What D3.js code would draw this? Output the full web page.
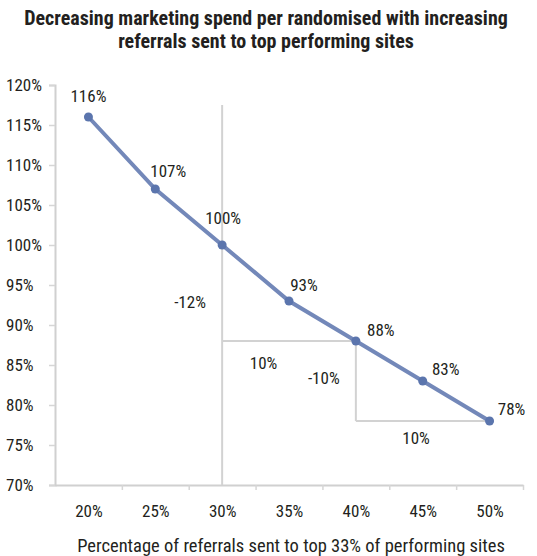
<!DOCTYPE html>
<html>
<head>
<meta charset="utf-8">
<script src="https://cdn.jsdelivr.net/npm/d3@7"></script>
<style>
  body { margin: 0; background: #fff; }
  svg text { font-family: "Liberation Sans Narrow", "Roboto Condensed", "Liberation Sans", sans-serif; fill: #231f20; }
  .title { font-weight: bold; font-size: 20px; }
</style>
</head>
<body>
<div id="svg-container"></div>
<script>
// data
const categories = [20, 25, 30, 35, 40, 45, 50]; // % referrals sent to top sites
const spend = [116, 107, 100, 93, 88, 83, 78]; // marketing spend per randomised (%)
const yTicks = [70, 75, 80, 85, 90, 95, 100, 105, 110, 115, 120];

const width = 537;
const height = 556;
const margin = { top: 85, right: 14, bottom: 71, left: 55 };
const fs = "17px";

const svg = d3.select("#svg-container").append("svg")
  .attr("width", width).attr("height", height);

// scale
const xScale = d3.scaleLinear().domain([17.5, 52.5]).range([margin.left, width - margin.right]);
const yScale = d3.scaleLinear().domain([70, 120]).range([height - margin.bottom, margin.top]);

// title
svg.append("text").attr("class", "title").attr("x", 266).attr("y", 25)
  .attr("text-anchor", "middle").text("Decreasing marketing spend per randomised with increasing");
svg.append("text").attr("class", "title").attr("x", 266).attr("y", 48)
  .attr("text-anchor", "middle").text("referrals sent to top performing sites");

// y axis
const yAxis = svg.append("g")
  .attr("transform", `translate(${margin.left},0)`)
  .call(d3.axisLeft(yScale).tickValues(yTicks).tickSize(6).tickFormat((d) => d + "%"));
yAxis.select(".domain").attr("stroke", "#d0d0d0").attr("stroke-width", 2);
yAxis.selectAll(".tick line").attr("stroke", "#d6d6d6").attr("stroke-width", 1.5);
yAxis.selectAll(".tick text")
  .attr("text-anchor", "start").attr("x", -margin.left + 6)
  .style("font-size", fs);

// x axis: labels at category centres, tick marks between categories
const xAxis = svg.append("g")
  .attr("transform", `translate(0,${height - margin.bottom})`)
  .call(d3.axisBottom(xScale).tickValues(categories).tickSize(0).tickPadding(20).tickFormat((d) => d + "%"));
xAxis.select(".domain").attr("stroke", "#d0d0d0").attr("stroke-width", 2);
xAxis.selectAll(".tick text").style("font-size", fs);

svg.append("g")
  .attr("transform", `translate(0,${height - margin.bottom})`)
  .call(d3.axisBottom(xScale).tickValues(categories.map((d) => d + 2.5)).tickSize(5).tickFormat(""))
  .call((g) => g.select(".domain").remove())
  .call((g) => g.selectAll(".tick line").attr("stroke", "#d6d6d6").attr("stroke-width", 1.5));

// x axis title
svg.append("text").attr("x", 291).attr("y", 552)
  .attr("text-anchor", "middle").style("font-size", "18.5px")
  .text("Percentage of referrals sent to top 33% of performing sites");

// annotation triangles
const guide = [
  [[30, 117.5], [30, 70]],
  [[30, 88], [40, 88]],
  [[40, 88], [40, 78]],
  [[40, 78], [50, 78]]
];
const guideLine = d3.line().x((d) => xScale(d[0])).y((d) => yScale(d[1]));
svg.selectAll(".guide").data(guide).join("path")
  .attr("class", "guide")
  .attr("d", guideLine)
  .attr("fill", "none")
  .attr("stroke", "#d2d2d2")
  .attr("stroke-width", 2);

const notes = [
  { x: 27.6, y: 92.9, text: "-12%" },
  { x: 33.1, y: 85.2, text: "10%" },
  { x: 37.6, y: 83.4, text: "-10%" },
  { x: 44.5, y: 75.9, text: "10%" }
];
svg.selectAll(".note").data(notes).join("text")
  .attr("class", "note")
  .attr("x", (d) => xScale(d.x)).attr("y", (d) => yScale(d.y) + 6)
  .attr("text-anchor", "middle").style("font-size", fs)
  .text((d) => d.text);

// line
const data = categories.map((c, i) => ({ x: c, y: spend[i] }));
const line = d3.line().x((d) => xScale(d.x)).y((d) => yScale(d.y));
svg.append("path").datum(data)
  .attr("d", line)
  .attr("fill", "none")
  .attr("stroke", "#7388b9")
  .attr("stroke-width", 4)
  .attr("stroke-linecap", "round");

svg.selectAll(".dot").data(data).join("circle")
  .attr("class", "dot")
  .attr("cx", (d) => xScale(d.x)).attr("cy", (d) => yScale(d.y))
  .attr("r", 4.5)
  .attr("fill", "#5b75ad");

// value labels
const labelOffset = [[0, -21], [13, -18], [1, -27], [15, -16], [25, -11], [23, -12], [22, -12]];
svg.selectAll(".val").data(data).join("text")
  .attr("class", "val")
  .attr("x", (d, i) => xScale(d.x) + labelOffset[i][0])
  .attr("y", (d, i) => yScale(d.y) + labelOffset[i][1] + 6)
  .attr("text-anchor", "middle").style("font-size", fs)
  .text((d) => d.y + "%");
</script>
</body>
</html>
